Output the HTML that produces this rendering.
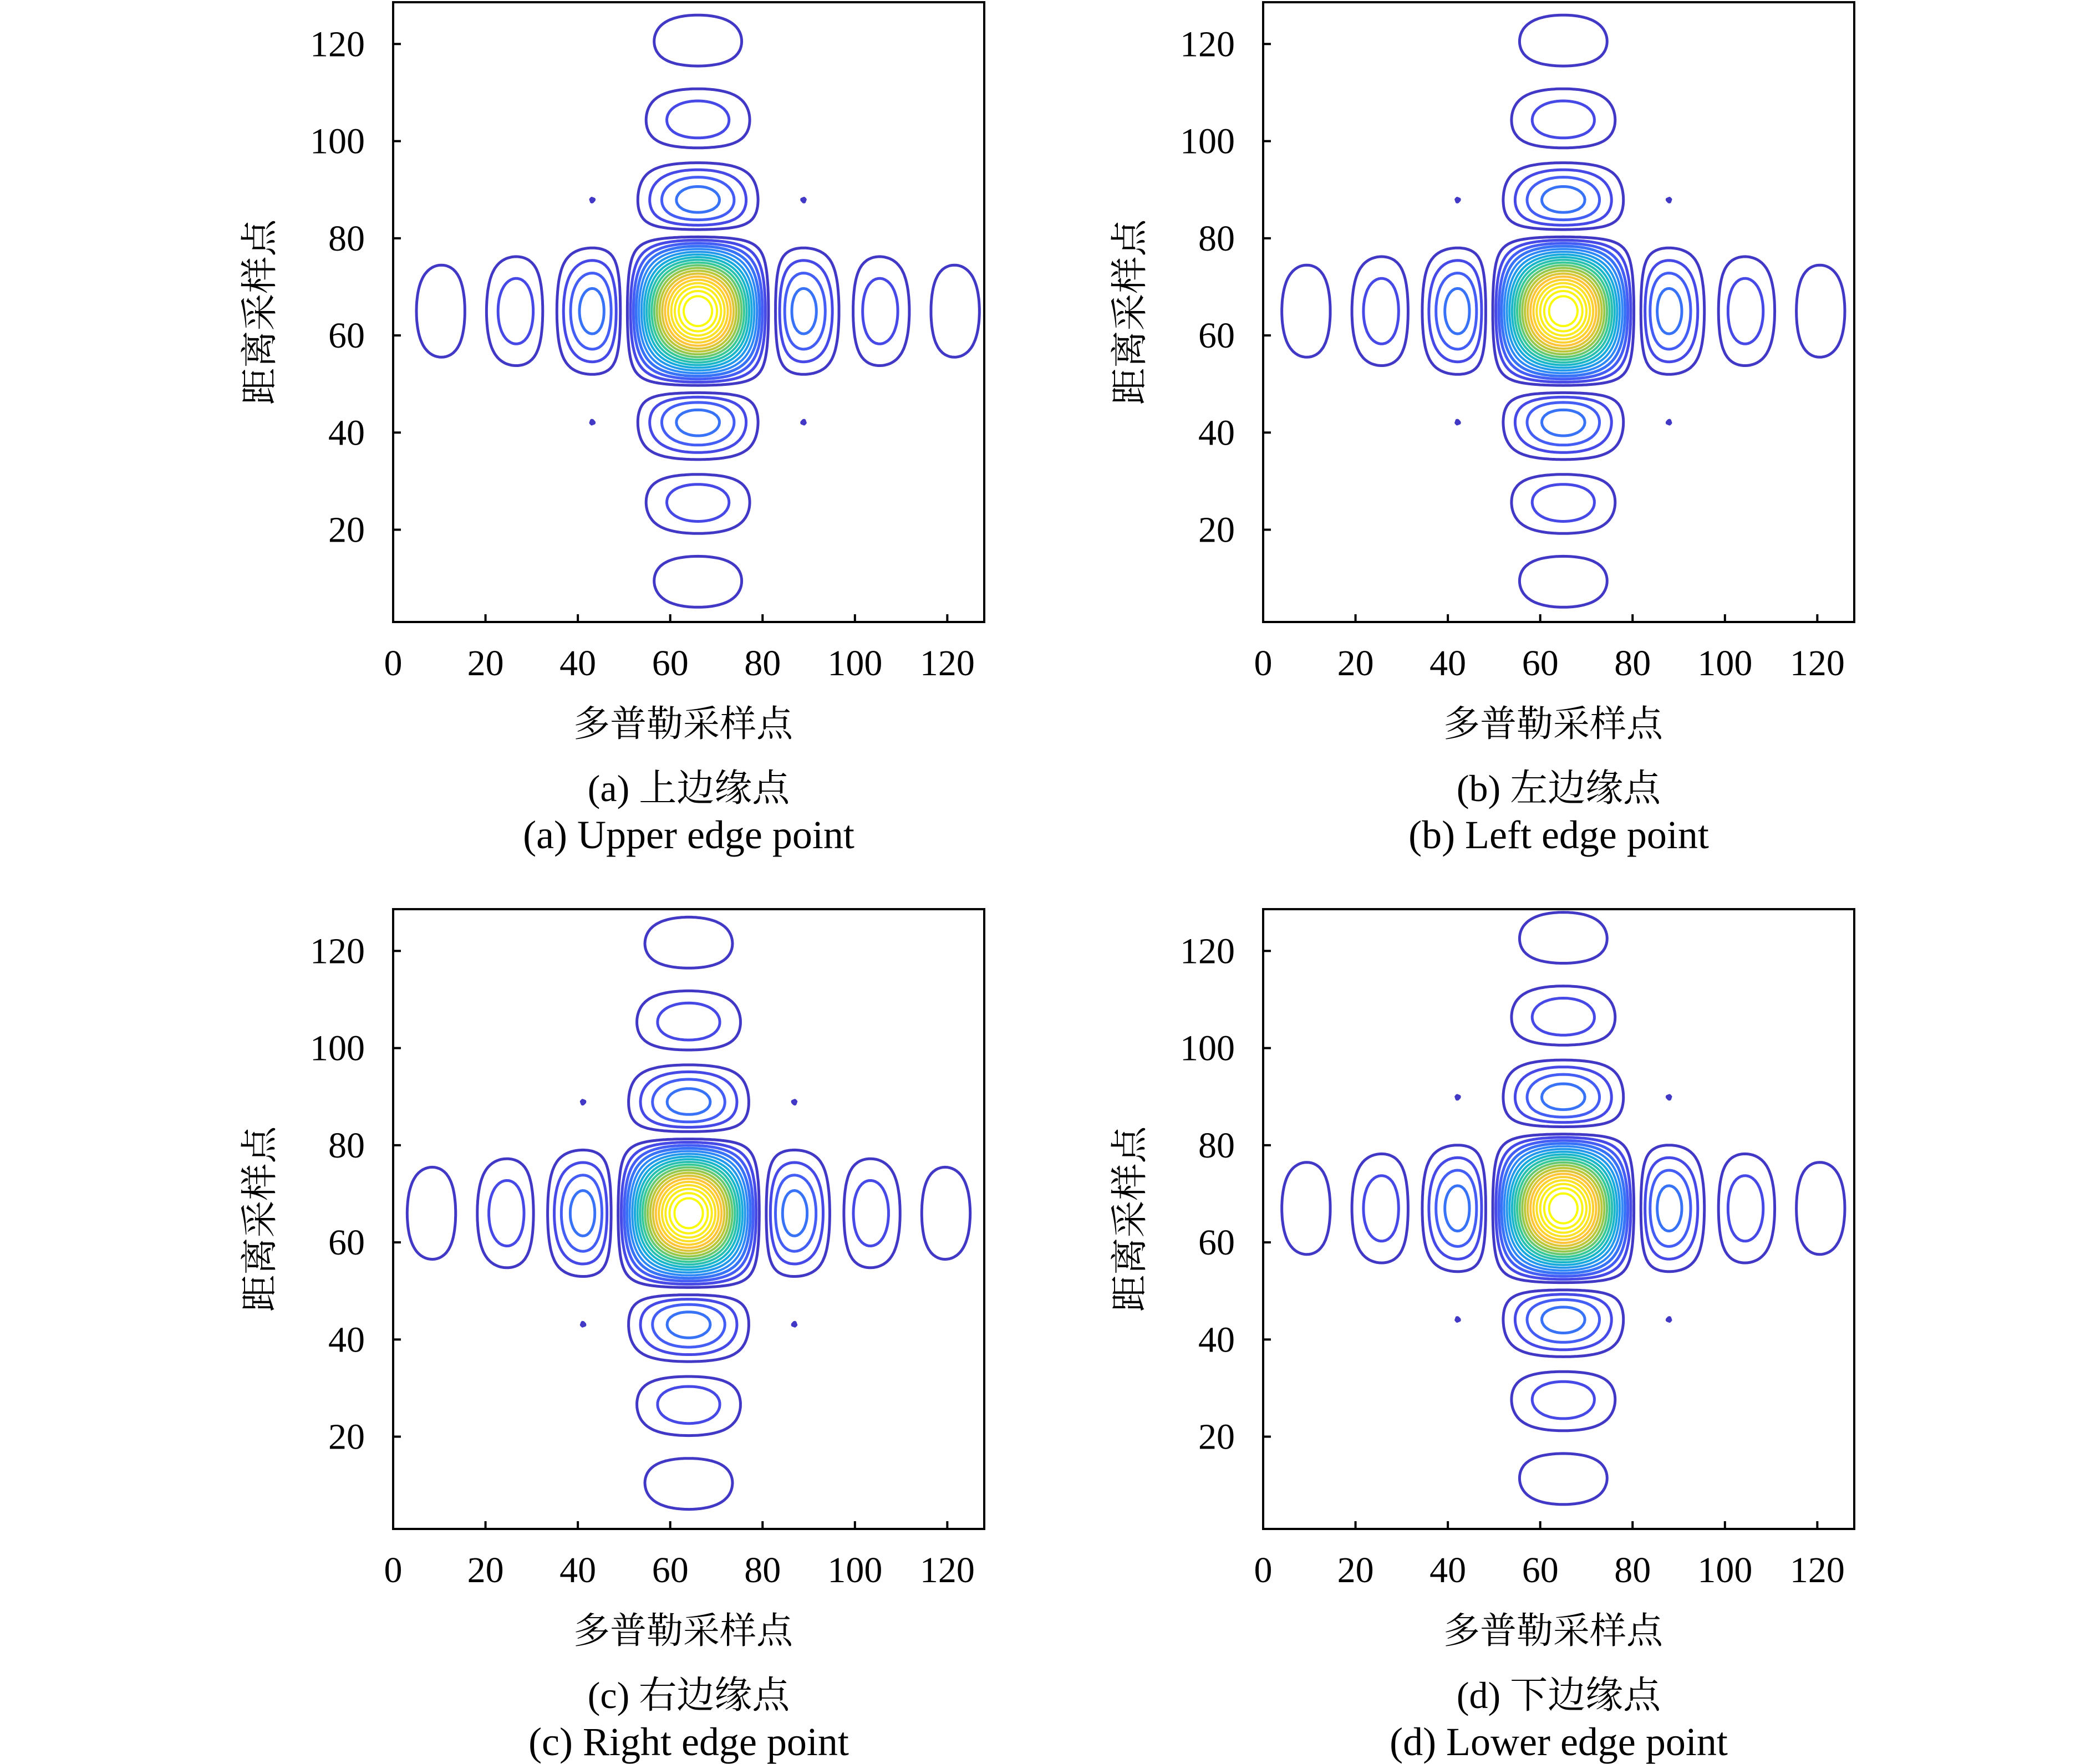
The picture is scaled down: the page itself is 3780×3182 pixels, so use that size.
<!DOCTYPE html>
<html><head><meta charset="utf-8"><style>
html,body{margin:0;padding:0;background:#fff;}
svg{display:block;}
text{font-family:"Liberation Serif","Noto Serif CJK SC",serif;fill:#000;}
</style></head>
<body>
<svg id="fig" width="3780" height="3182" viewBox="0 0 3780 3182" xmlns="http://www.w3.org/2000/svg"></svg>
<script>
// ---- data ----
const panelIds = ['a','b','c','d'];
const centerX = [66, 65, 64, 65];
const centerY = [65, 65, 66, 67];
const lobeWidth = [16, 16, 16, 16];
const contourLevels = [0.047,0.094,0.141,0.188,0.235,0.282,0.329,0.376,0.423,0.47,0.517,0.564,0.611,0.658,0.705,0.752,0.799,0.846,0.893,0.94];
const xTicks = [0,20,40,60,80,100,120];
const yTicks = [20,40,60,80,100,120];
const captionsCN = ['(a) 上边缘点','(b) 左边缘点','(c) 右边缘点','(d) 下边缘点'];
const captionsEN = ['(a) Upper edge point','(b) Left edge point','(c) Right edge point','(d) Lower edge point'];
const xLabelText = '多普勒采样点';
const yLabelText = '距离采样点';

const NS='http://www.w3.org/2000/svg';
const svg=document.getElementById('fig');
const parula=[[62,38,168],[72,82,244],[46,135,247],[18,177,214],[54,200,151],[171,199,57],[254,195,56],[249,231,33],[249,251,14]];
function cmap(t){t=Math.max(0,Math.min(1,t));const p=t*(parula.length-1);const i=Math.min(parula.length-2,Math.floor(p));const f=p-i;
  const c=parula[i].map((v,k)=>Math.round(v+(parula[i+1][k]-v)*f));return 'rgb('+c.join(',')+')';}
function sinc(u){if(Math.abs(u)<1e-9)return 1;const a=Math.PI*u;return Math.sin(a)/a;}
function mk(tag,attrs,parent){const e=document.createElementNS(NS,tag);for(const k in attrs)e.setAttribute(k,attrs[k]);(parent||svg).appendChild(e);return e;}

const X0=0,X1=128,Y0=1,Y1=128.6;
const maxLevel=contourLevels[contourLevels.length-1];
panelIds.forEach((pid,p)=>{
  const col=p%2,row=Math.floor(p/2);
  const L=709+col*1569, R=L+1066, T=4+row*1636, B=1122+row*1636;
  const sx=v=>L+(v-X0)/(X1-X0)*(R-L);
  const sy=v=>B-(v-Y0)/(Y1-Y0)*(B-T);
  const g=mk('g',{});
  
  
  const step=0.5,nx=Math.round((X1-X0)/step)+1,ny=Math.round((Y1-Y0)/step)+1;
  const F=new Float32Array(nx*ny);
  for(let j=0;j<ny;j++)for(let i=0;i<nx;i++){const x=X0+i*step,y=Y0+j*step;
    F[j*nx+i]=Math.abs(sinc((x-centerX[p])/lobeWidth[p])*sinc((y-centerY[p])/lobeWidth[p]));}
  const cg=mk('g',{},g);
  
  
  contourLevels.forEach((lv,li)=>{
    let d='';
    const px=(i,j)=>[sx(X0+i*step),sy(Y0+j*step)];
    for(let j=0;j<ny-1;j++)for(let i=0;i<nx-1;i++){
      const a=F[j*nx+i],b=F[j*nx+i+1],c=F[(j+1)*nx+i+1],e=F[(j+1)*nx+i];
      let idx=(a>lv?1:0)|(b>lv?2:0)|(c>lv?4:0)|(e>lv?8:0);
      if(idx===0||idx===15)continue;
      const ip=(v1,v2)=>(lv-v1)/(v2-v1);
      const E=[
        ()=>{const t=ip(a,b);return [i+t,j];},
        ()=>{const t=ip(b,c);return [i+1,j+t];},
        ()=>{const t=ip(e,c);return [i+t,j+1];},
        ()=>{const t=ip(a,e);return [i,j+t];}];
      const tbl={1:[[0,3]],2:[[0,1]],3:[[1,3]],4:[[1,2]],5:[[0,1],[2,3]],6:[[0,2]],7:[[2,3]],8:[[2,3]],9:[[0,2]],10:[[0,3],[1,2]],11:[[1,2]],12:[[1,3]],13:[[0,1]],14:[[0,3]]};
      tbl[idx].forEach(s=>{const p1=E[s[0]](),p2=E[s[1]]();
        const q1=px(p1[0],p1[1]),q2=px(p2[0],p2[1]);
        d+='M'+q1[0].toFixed(1)+' '+q1[1].toFixed(1)+'L'+q2[0].toFixed(1)+' '+q2[1].toFixed(1);});
    }
    if(d){const path=mk('path',{d:d,fill:'none',stroke:cmap(lv/maxLevel),'stroke-width':(lv<0.2?5:4),'stroke-linecap':'round'},cg);
      
      }
  });
  const box=mk('rect',{x:L,y:T,width:R-L,height:B-T,fill:'none',stroke:'#000','stroke-width':4},g);
  
  
  xTicks.forEach(v=>{const x=sx(v);
    const tk=mk('line',{x1:x,y1:B,x2:x,y2:B-14,stroke:'#000','stroke-width':4},g);
    
    
    const t=mk('text',{x:x,y:B+96,'font-size':66,'text-anchor':'middle'},g);t.textContent=v;
    
    });
  yTicks.forEach(v=>{const y=sy(v);
    const tk=mk('line',{x1:L,y1:y,x2:L+14,y2:y,stroke:'#000','stroke-width':4},g);
    
    
    const t=mk('text',{x:L-51,y:y+22,'font-size':66,'text-anchor':'end'},g);t.textContent=v;
    
    });
  const cx=(L+R)/2;
  const xl=mk('text',{x:cx-10,y:B+206,'font-size':66,'text-anchor':'middle'},g);xl.textContent=xLabelText;
  
  
  const yl=mk('text',{x:0,y:0,'font-size':67,'text-anchor':'middle',transform:'translate('+(L-218)+','+((T+B)/2)+') rotate(-90)'},g);yl.textContent=yLabelText;
  
  
  const c1=mk('text',{x:cx,y:B+323,'font-size':68,'text-anchor':'middle'},g);c1.textContent=captionsCN[p];
  
  
  const c2=mk('text',{x:cx,y:B+408,'font-size':72,'text-anchor':'middle'},g);c2.textContent=captionsEN[p];
  
  
});
</script>
</body></html>
